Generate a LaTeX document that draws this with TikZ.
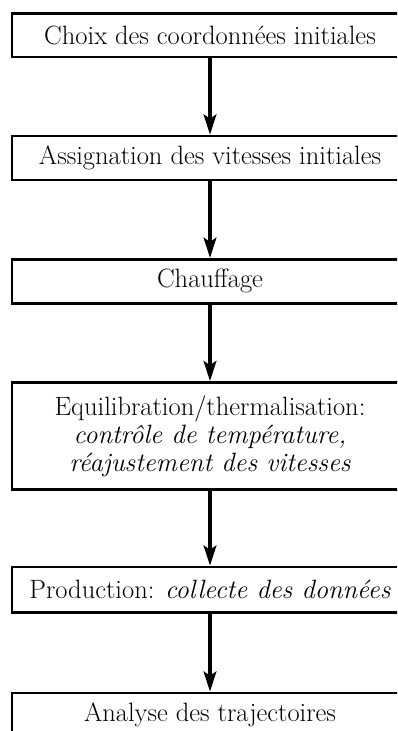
\documentclass[tikz,border=0pt]{standalone}
\usetikzlibrary{arrows.meta}
\begin{document}
\begin{tikzpicture}[x=1pt,y=1pt,
  stepbox/.style={draw=black, line width=2.6pt, fill=white, minimum width=396pt,
    inner sep=0pt, align=center, font=\fontsize{26.5}{28}\selectfont},
  flow/.style={line width=4.2pt, -{Stealth[length=20pt,width=12.5pt,inset=4pt]}}]
\useasboundingbox (0,0) rectangle (397,-731);
\clip (0,0) rectangle (397,-731);
\node[stepbox, minimum height=43.5pt] (b1) at (210,-35.3) {Choix des coordonnées initiales};
\node[stepbox, minimum height=44pt] (b2) at (210,-158) {Assignation des vitesses initiales};
\node[stepbox, minimum height=44pt] (b3) at (210,-281.2) {Chauffage};
\node[stepbox, minimum height=107pt] (b4) at (210,-436) {Equilibration/thermalisation:\\ \itshape contrôle de température,\\ \itshape réajustement des vitesses};
\node[stepbox, minimum height=45.5pt] (b5) at (210,-589.8) {Production: \textit{collecte des données}};
\node[stepbox, minimum height=44pt] (b6) at (210,-715) {Analyse des trajectoires};
\draw[flow] (b1.south) -- (b2.north);
\draw[flow] (b2.south) -- (b3.north);
\draw[flow] (b3.south) -- (b4.north);
\draw[flow] (b4.south) -- (b5.north);
\draw[flow] (b5.south) -- (b6.north);
\end{tikzpicture}
\end{document}
